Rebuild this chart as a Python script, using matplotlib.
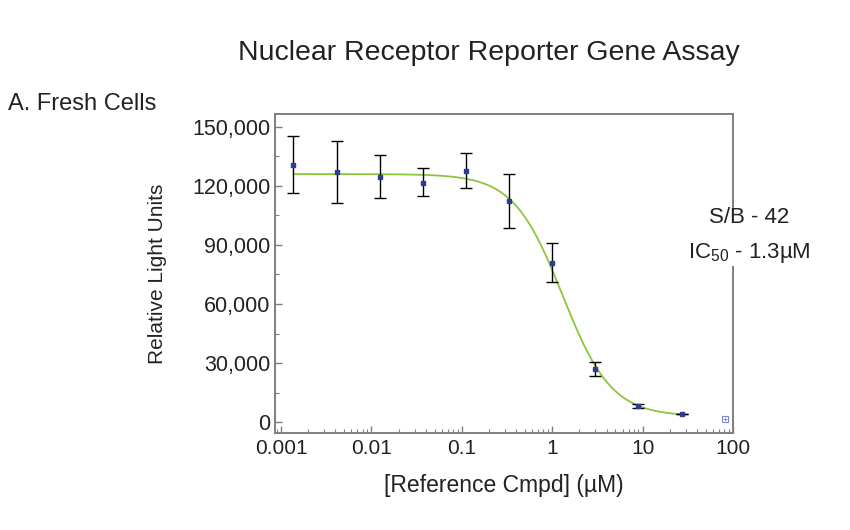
import numpy as np
import matplotlib.pyplot as plt
from matplotlib.ticker import FuncFormatter, LogLocator, MultipleLocator, FixedLocator

plt.rcParams['font.family'] = ['Liberation Sans', 'DejaVu Sans']
plt.rcParams['mathtext.fontset'] = 'custom'
plt.rcParams['mathtext.rm'] = 'Liberation Sans'

# concentrations (uM), 3-fold dilution series
conc = [0.00137, 0.00412, 0.0123, 0.0370, 0.111, 0.333, 1.0, 3.0, 9.0, 27.0]
rlu = [130700, 126800, 124600, 121700, 127600, 112300, 80700, 26900, 8300, 3900]
err_lo = [14300, 15400, 10900, 7000, 8500, 13700, 9700, 3700, 1000, 0]
err_hi = [14700, 16100, 11000, 7600, 9000, 13800, 10200, 3800, 1000, 0]

# excluded point
excl_conc = [81.0]
excl_rlu = [1400]

# 4-parameter logistic fit shown on the plot
fit_top = 126000
fit_bottom = 3000
fit_ic50 = 1.3
fit_hill = 1.6

green = '#8cc63f'
blue = '#2e3b8f'
gray = '#7f7f7f'

fig = plt.figure(figsize=(8.5, 5.3), dpi=100)
ax = fig.add_axes([275/850, 1-433/530, (733-275)/850, (433-114)/530])

xf = np.logspace(np.log10(conc[0]), np.log10(conc[-1]), 300)
yf = fit_bottom + (fit_top - fit_bottom) / (1 + (xf / fit_ic50) ** fit_hill)
ax.plot(xf, yf, color=green, lw=1.3, zorder=2)

ax.errorbar(conc, rlu, yerr=[err_lo, err_hi], fmt='s', ms=2.5, color=blue,
            ecolor='black', elinewidth=1.0, capsize=4, capthick=1.0, zorder=3)
ax.plot(excl_conc, excl_rlu, 's', ms=4, mfc='none', mec='#7b88d6', mew=0.8)
ax.plot(excl_conc, excl_rlu, '+', ms=2.5, color='#7b88d6', mew=0.6)

ax.set_xscale('log')
ax.set_xlim(0.000857, 100)
ax.set_ylim(-5500, 156500)

ax.xaxis.set_major_locator(FixedLocator([0.001, 0.01, 0.1, 1, 10, 100]))
ax.xaxis.set_minor_locator(LogLocator(base=10, subs=np.arange(2, 10)))
ax.set_xticklabels(['0.001', '0.01', '0.1', '1', '10', '100'])
ax.yaxis.set_major_locator(MultipleLocator(30000))
ax.yaxis.set_minor_locator(MultipleLocator(15000))
ax.yaxis.set_major_formatter(FuncFormatter(lambda v, p: f'{int(v):,}'))

ax.tick_params(axis='both', which='both', direction='in', colors=gray,
               labelcolor='#222222', labelsize=15, top=False, right=False)
ax.tick_params(axis='y', labelsize=15.5)
ax.tick_params(axis='both', which='major', length=5, width=1)
ax.tick_params(axis='both', which='minor', length=3, width=0.8)
ax.tick_params(axis='x', pad=4)
for s in ax.spines.values():
    s.set_color(gray)
    s.set_linewidth(1.4)

ax.set_xlabel('[Reference Cmpd] (µM)', fontsize=16.5, color='#222222', labelpad=12)
ax.set_ylabel('Relative Light Units', fontsize=15, color='#222222', labelpad=18)

fig.text(489/850, 1-53/530, 'Nuclear Receptor Reporter Gene Assay', fontsize=20.5,
         ha='center', va='center', color='#222222')
fig.text(8/850, 1-104/530, 'A. Fresh Cells', fontsize=17, ha='left', va='center',
         color='#222222')
fig.text(749/850, 1-236/530, 'S/B - 42\nIC$_{50}$ - 1.3µM', fontsize=16,
         ha='center', va='center', color='#222222', linespacing=1.75,
         bbox=dict(facecolor='white', edgecolor='none', pad=1))

fig.savefig('out.png', dpi=100)
